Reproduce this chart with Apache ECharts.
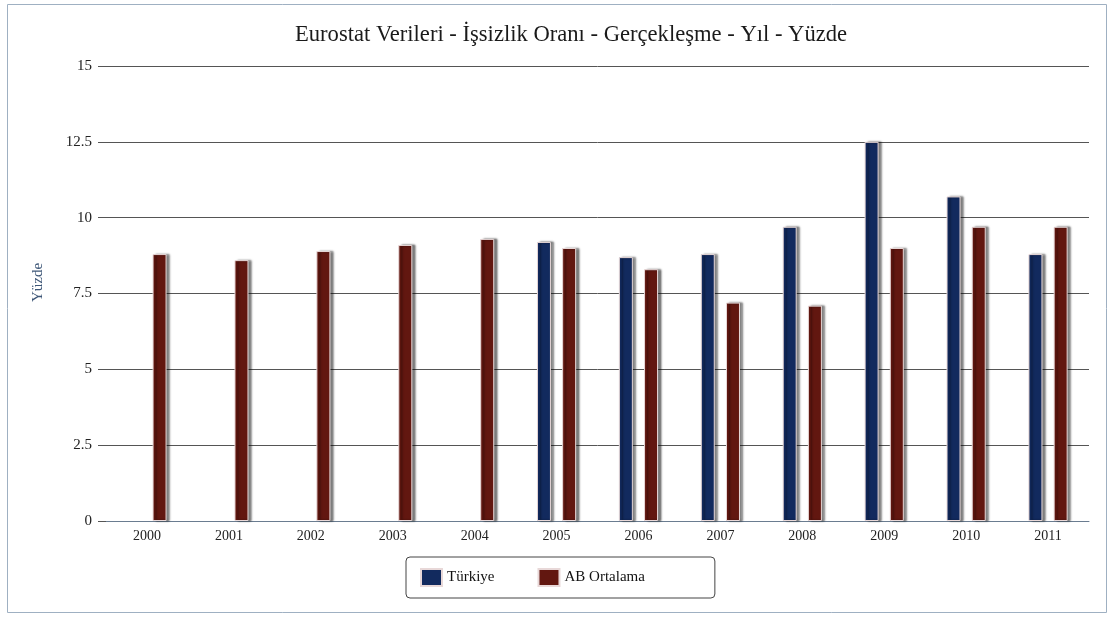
<!DOCTYPE html>
<html>
<head>
<meta charset="utf-8">
<script src="https://cdn.jsdelivr.net/npm/echarts@6/dist/echarts.min.js"></script>
<style>
  html, body { margin: 0; padding: 0; background: #fff; }
  #main { width: 1110px; height: 619px; }
</style>
</head>
<body>
<div id="main"></div>
<script>
// yillar
var years = ['2000', '2001', '2002', '2003', '2004', '2005', '2006', '2007', '2008', '2009', '2010', '2011'];
// Türkiye issizlik orani (2005 oncesi veri yok)
var turkiye = [null, null, null, null, null, 9.2, 8.7, 8.8, 9.7, 12.5, 10.7, 8.8];
// AB ortalamasi
var abOrtalama = [8.8, 8.6, 8.9, 9.1, 9.3, 9.0, 8.3, 7.2, 7.1, 9.0, 9.7, 9.7];
var yTicks = [0, 2.5, 5, 7.5, 10, 12.5, 15];

var serif = '"Liberation Serif", "DejaVu Serif", serif';
var chart = echarts.init(document.getElementById('main'));

var barStyle = function (color) {
  return {
    color: color,
    borderColor: '#e8d8d8',
    borderWidth: 1,
    shadowColor: 'rgba(0,0,0,0.5)',
    shadowBlur: 2,
    shadowOffsetX: 3,
    shadowOffsetY: 0
  };
};

chart.setOption({
  backgroundColor: '#ffffff',
  animation: false,
  title: {
    text: 'Eurostat Verileri - İşsizlik Oranı - Gerçekleşme - Yıl - Yüzde',
    left: 290,
    top: 19,
    textStyle: { fontFamily: serif, fontSize: 22.6, fontWeight: 'normal', color: '#1a1a1a' }
  },
  // dis cerceve
  graphic: [{
    type: 'rect',
    shape: { x: 7.5, y: 4.5, width: 1099, height: 608 },
    style: { fill: 'none', stroke: '#9fb0c2', lineWidth: 1 },
    silent: true
  }],
  legend: {
    bottom: 21,
    left: 406,
    icon: 'rect',
    itemWidth: 21,
    itemHeight: 17,
    itemGap: 43,
    padding: [11, 70, 11, 14],
    borderColor: '#444',
    borderWidth: 1,
    borderRadius: 4,
    textStyle: { fontFamily: serif, fontSize: 15, color: '#111' },
    data: ['Türkiye', 'AB Ortalama']
  },
  grid: { left: 106, right: 21, top: 66, bottom: 98 },
  xAxis: {
    type: 'category',
    data: years,
    axisLine: { lineStyle: { color: '#6a7c90' } },
    axisTick: { show: false },
    axisLabel: { fontFamily: serif, fontSize: 14, color: '#222', margin: 8 }
  },
  yAxis: {
    type: 'value',
    min: 0,
    max: 15,
    interval: 2.5,
    name: 'Yüzde',
    nameLocation: 'middle',
    nameGap: 60,
    nameTextStyle: { fontFamily: serif, fontSize: 15, color: '#3d5677', padding: [0, 0, 0, 22] },
    axisLine: { show: false },
    axisTick: { show: true, length: 8, lineStyle: { color: '#555' } },
    axisLabel: {
      fontFamily: serif, fontSize: 15, color: '#222', margin: 14,
      formatter: function (v) { return yTicks.indexOf(v) >= 0 ? String(v) : ''; }
    },
    splitLine: { lineStyle: { color: '#555', width: 1 } }
  },
  series: [
    {
      name: 'Türkiye',
      type: 'bar',
      data: turkiye,
      barWidth: 14,
      barGap: '80%',
      itemStyle: barStyle('#122a5e')
    },
    {
      name: 'AB Ortalama',
      type: 'bar',
      data: abOrtalama,
      barWidth: 14,
      barGap: '80%',
      itemStyle: barStyle('#621710')
    }
  ]
});
</script>
</body>
</html>
